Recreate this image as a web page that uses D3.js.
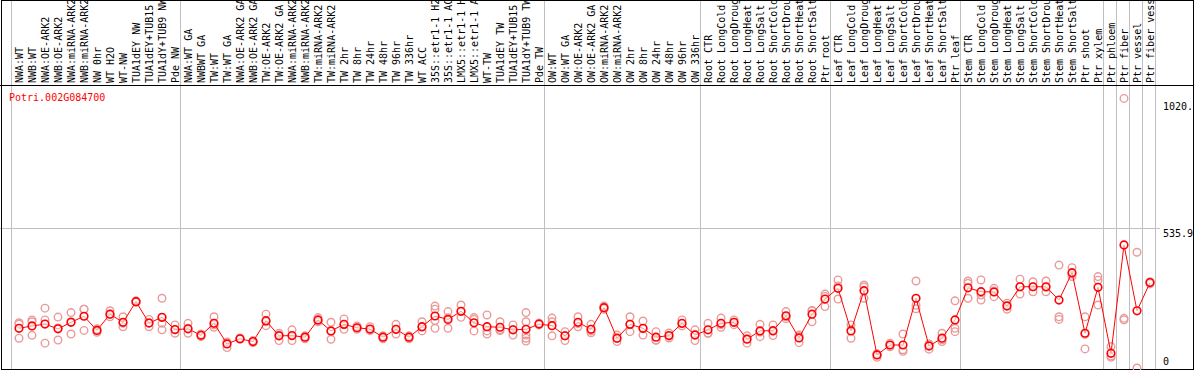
<!DOCTYPE html>
<html>
<head>
<meta charset="utf-8">
<script src="https://cdn.jsdelivr.net/npm/d3@7"></script>
<style>
body{margin:0;background:#fff;}
svg{display:block;}
text{font-family:"DejaVu Sans Mono",monospace;font-size:10px;}
</style>
</head>
<body>
<svg id="canvas" width="1194" height="370"></svg>
<script>
// sample labels, left to right
const labels = [
"NWA:WT","NWB:WT","NWA:OE-ARK2","NWB:OE-ARK2","NWA:miRNA-ARK2","NWB:miRNA-ARK2","NW 0hr","WT H2O","WT-NW","TUA1dEY NW","TUA1dEY+TUB15 NW","TUA1dY+TUB9 NW","Pde NW",
"NWA:WT GA","NWBWT GA","TW:WT","TW:WT GA","NWA:OE-ARK2 GA","NWB:OE-ARK2 GA","TW:OE-ARK2","TW:OE-ARK2 GA","NWA:miRNA-ARK2","NWB:miRNA-ARK2","TW:miRNA-ARK2","TW:miRNA-ARK2 GA","TW 2hr","TW 8hr","TW 24hr","TW 48hr","TW 96hr","TW 336hr","WT ACC","35S::etr1-1 H2O","35S::etr1-1 ACC","LMX5::etr1-1 H2O","LMX5::etr1-1 ACC","WT-TW","TUA1dEY TW","TUA1dEY+TUB15 TW","TUA1dY+TUB9 TW","Pde TW",
"OW:WT","OW:WT GA","OW:OE-ARK2","OW:OE-ARK2 GA","OW:miRNA-ARK2","OW:miRNA-ARK2 GA","OW 2hr","OW 8hr","OW 24hr","OW 48hr","OW 96hr","OW 336hr",
"Root CTR","Root LongCold","Root LongDrought","Root LongHeat","Root LongSalt","Root ShortCold","Root ShortDrought","Root ShortHeat","Root ShortSalt","Ptr root",
"Leaf CTR","Leaf LongCold","Leaf LongDrought","Leaf LongHeat","Leaf LongSalt","Leaf ShortCold","Leaf ShortDrought","Leaf ShortHeat","Leaf ShortSalt","Ptr leaf",
"Stem CTR","Stem LongCold","Stem LongDrought","Stem LongHeat","Stem LongSalt","Stem ShortCold","Stem ShortDrought","Stem ShortHeat","Stem ShortSalt","Ptr shoot","Ptr xylem",
"Ptr phloem","Ptr fiber","Ptr vessel","Ptr fiber vessel"];

// how many samples in each experiment block
const groupSizes = [13,28,12,10,10,11,1,1,1,1];

// mean expression per sample
const means = [
152,161,168,150,175,198,144,206,175,254,172,194,147,
150,125,171,92,112,101,181,123,124,118,184,142,167,154,149,118,148,118,158,199,186,217,173,158,156,146,148,168,
162,123,175,148,231,114,167,152,118,124,171,126,
146,171,175,110,142,143,200,115,206,264,
305,142,296,50,88,88,267,84,114,184,
307,292,291,237,311,311,311,260,365,133,309,
56,471,219,327];

// replicate values per sample
const reps = [
[173,168,114],[184,177,125],[229,184,95],[195,153,107],[212,177,130],[225,225,144],[146,137,150],[219,206,196],[196,158,171],[257,254,252],[186,158,173],[267,193,171,146],[165,146,133],
[171,152,133],[126,120,130],[196,165,156],[100,78,97],[115,110,112],[105,97,101],[206,162,177],[133,105,126],[146,105,123],[123,112,118],[193,177,181],[175,110,140],[188,148,166],[161,148,154],[158,143,147],[123,112,118],[167,130,147],[123,112,118],[177,142,156],[237,225,152,182],[216,152,192],[241,194,216],[193,142,186],[203,142,130],[177,143,147],[165,126,146],[212,177,126,114,103],[168,165,172],
[191,177,123],[139,105,124],[196,158,170],[167,135,142],[237,225,230],[126,101,114],[196,139,167],[180,126,150],[139,107,106],[134,115,122],[184,161,169],[146,105,129],
[171,133,133],[191,156,166],[184,166,175],[123,95,113],[167,120,138],[165,124,140],[216,196,189],[126,97,121],[219,177,220],[283,235,274],
[337,264,314],[165,114,147],[318,311,267],[41,55,53],[95,88,81],[130,70,64],[333,240,227],[92,72,89],[133,101,108],[257,152,139],
[333,267,324],[337,260,279],[305,273,295],[248,225,240],[340,283,311],[330,292,311],[333,292,309],[394,196,186],[384,360,350],[196,73,129],[350,241,336],
[82,41,46],[1032,190,184],[443,0],[330,322,328]];

const tickValues = [0,535.9,1020];
const tickLabels = ["0","535.9","1020."];
const geneName = "Potri.002G084700";

let canvas = d3.select("#canvas");
let w = 1194, h = 370;

let x = d3.scaleBand().domain(d3.range(labels.length)).range([12.5,1156.5]);
let y = d3.scaleLinear().domain([0,1071.8]).range([368,88]);
let cx = i => x(i) + x.bandwidth()/2;

// group separators
let bounds = [0];
groupSizes.forEach(g => bounds.push(bounds[bounds.length-1]+g));
canvas.selectAll(".sep").data(bounds).join("line").attr("class","sep")
  .attr("x1",d=>Math.floor(x(d) !== undefined ? x(d)-1.5 : 1155)+0.5)
  .attr("x2",d=>Math.floor(x(d) !== undefined ? x(d)-1.5 : 1155)+0.5)
  .attr("y1",0).attr("y2",h).attr("stroke","#c0c0c0").attr("stroke-width",1);

// mid grid line
canvas.append("line").attr("x1",0).attr("x2",1160)
  .attr("y1",Math.round(y(535.9))+0.5).attr("y2",Math.round(y(535.9))+0.5)
  .attr("stroke","#c0c0c0");

// frame + label divider
canvas.append("rect").attr("x",1.5).attr("y",0.5).attr("width",1192).attr("height",369)
  .attr("fill","none").attr("stroke","#000");
canvas.append("line").attr("x1",0).attr("x2",w).attr("y1",85.5).attr("y2",85.5).attr("stroke","#000");

// sample labels, rotated
canvas.append("g").selectAll("text").data(labels).join("text")
  .attr("transform",(d,i)=>`translate(${cx(i)+4},83) rotate(-90)`)
  .attr("fill","#000").text(d=>d);

// gene name
canvas.append("text").attr("x",9).attr("y",101).attr("fill","#ff0000").text(geneName);

// y labels
canvas.append("g").selectAll("text").data(tickValues).join("text")
  .attr("x",1163).attr("y",(d)=>y(d)+(d===0?-3:8.5)).attr("fill","#000")
  .text((d,i)=>tickLabels[i]);

// replicates
let repPts = [];
reps.forEach((r,i)=>r.forEach(v=>repPts.push({i:i,v:v})));
canvas.append("g").selectAll("circle").data(repPts).join("circle")
  .attr("cx",d=>cx(d.i)).attr("cy",d=>y(d.v)).attr("r",3.8)
  .attr("fill","none").attr("stroke","#eb9a9a").attr("stroke-width",1.4);

// mean line
let line = d3.line().x((d,i)=>cx(i)).y(d=>y(d));
canvas.append("path").datum(means).attr("d",line)
  .attr("fill","none").attr("stroke","#ff0000").attr("stroke-width",1);

canvas.append("g").selectAll("circle").data(means).join("circle")
  .attr("cx",(d,i)=>cx(i)).attr("cy",d=>y(d)).attr("r",3.8)
  .attr("fill","#fff").attr("fill-opacity",0.6).attr("stroke","#ff0000").attr("stroke-width",1.6);
</script>
</body>
</html>
